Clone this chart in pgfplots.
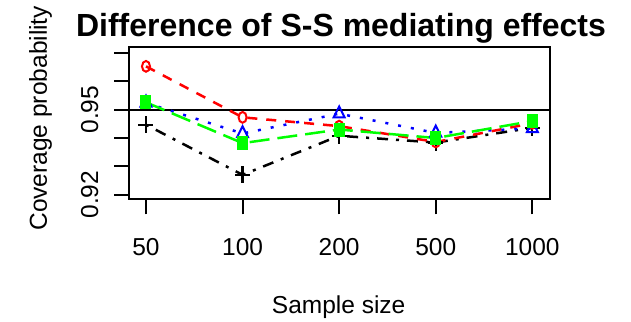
\documentclass[border=0pt]{standalone}
\usepackage{pgfplots}
\pgfplotsset{compat=1.18}
\usepackage{fontspec}
\setmainfont{Liberation Sans}
\definecolor{rred}{RGB}{255,0,0}
\definecolor{rblue}{RGB}{0,0,255}
\definecolor{rgreen}{RGB}{0,255,0}
\begin{document}
\begin{tikzpicture}[x=1pt,y=1pt]
\useasboundingbox (0,0) rectangle (631,321);
\begin{axis}[
  at={(129pt,121.7pt)}, anchor=south west,
  scale only axis, width=421pt, height=152pt,
  xmin=-0.176, xmax=4.183,
  ymin=0.91837, ymax=0.97203,
  axis line style={line width=2pt},
  tick style={line width=2pt, black},
  tick align=outside, major tick length=15pt,
  xtick={0,1,2,3,4}, xticklabels={50,100,200,500,1000},
  ytick={0.92,0.93,0.94,0.95,0.96,0.97},
  yticklabels={0.92,{},{},0.95,{},{}},
  xtick pos=bottom, ytick pos=left,
  tick label style={font=\fontsize{24.5}{24.5}\selectfont},
  xticklabel style={anchor=base, yshift=-41pt},
  yticklabel style={rotate=90, anchor=base, yshift=16pt},
  /pgf/number format/assume math mode=true,
  title={Difference of S-S mediating effects},
  title style={font=\fontsize{32}{32}\selectfont\bfseries, at={(axis description cs:0.5036,1.03)}, anchor=base},
  xlabel={Sample size},
  xlabel style={font=\fontsize{24.5}{24.5}\selectfont, at={(axis description cs:0.498,-0.75)}, anchor=base},
  ylabel={Coverage probability},
  ylabel style={font=\fontsize{24.5}{24.5}\selectfont, at={(axis description cs:-0.1948,0.533)}, anchor=base},
  clip=false,
]
\addplot[black, line width=2pt, forget plot] coordinates {(-0.176,0.95) (4.183,0.95)};
% black
\addplot[black, line width=2.5pt, dash pattern=on 3pt off 8pt on 11pt off 8pt,
  mark=+, mark size=7.5pt, mark options={solid, line width=2.2pt, yscale=1.13}]
  coordinates {(0,0.9447) (1,0.9270) (2,0.9408) (3,0.9384) (4,0.9436)};
% red
\addplot[rred, line width=2.5pt, dash pattern=on 10pt off 9pt,
  mark=o, mark size=4pt, mark options={solid, line width=2pt, yscale=1.35}]
  coordinates {(0,0.9653) (1,0.9473) (2,0.9442) (3,0.9386) (4,0.9452)};
% blue
\addplot[rblue, line width=2.5pt, dash pattern=on 3pt off 10pt,
  mark=triangle, mark size=6.3pt, mark options={solid, line width=2pt, yscale=1.15}]
  coordinates {(0,0.9524) (1,0.9416) (2,0.9486) (3,0.9418) (4,0.9434)};
% green
\addplot[rgreen, line width=2.5pt, dash pattern=on 20pt off 8pt,
  mark=square*, mark size=5pt, mark options={solid, line width=0pt, yscale=1.3}]
  coordinates {(0,0.9526) (1,0.9382) (2,0.9430) (3,0.9400) (4,0.9460)};
\end{axis}
\end{tikzpicture}
\end{document}
